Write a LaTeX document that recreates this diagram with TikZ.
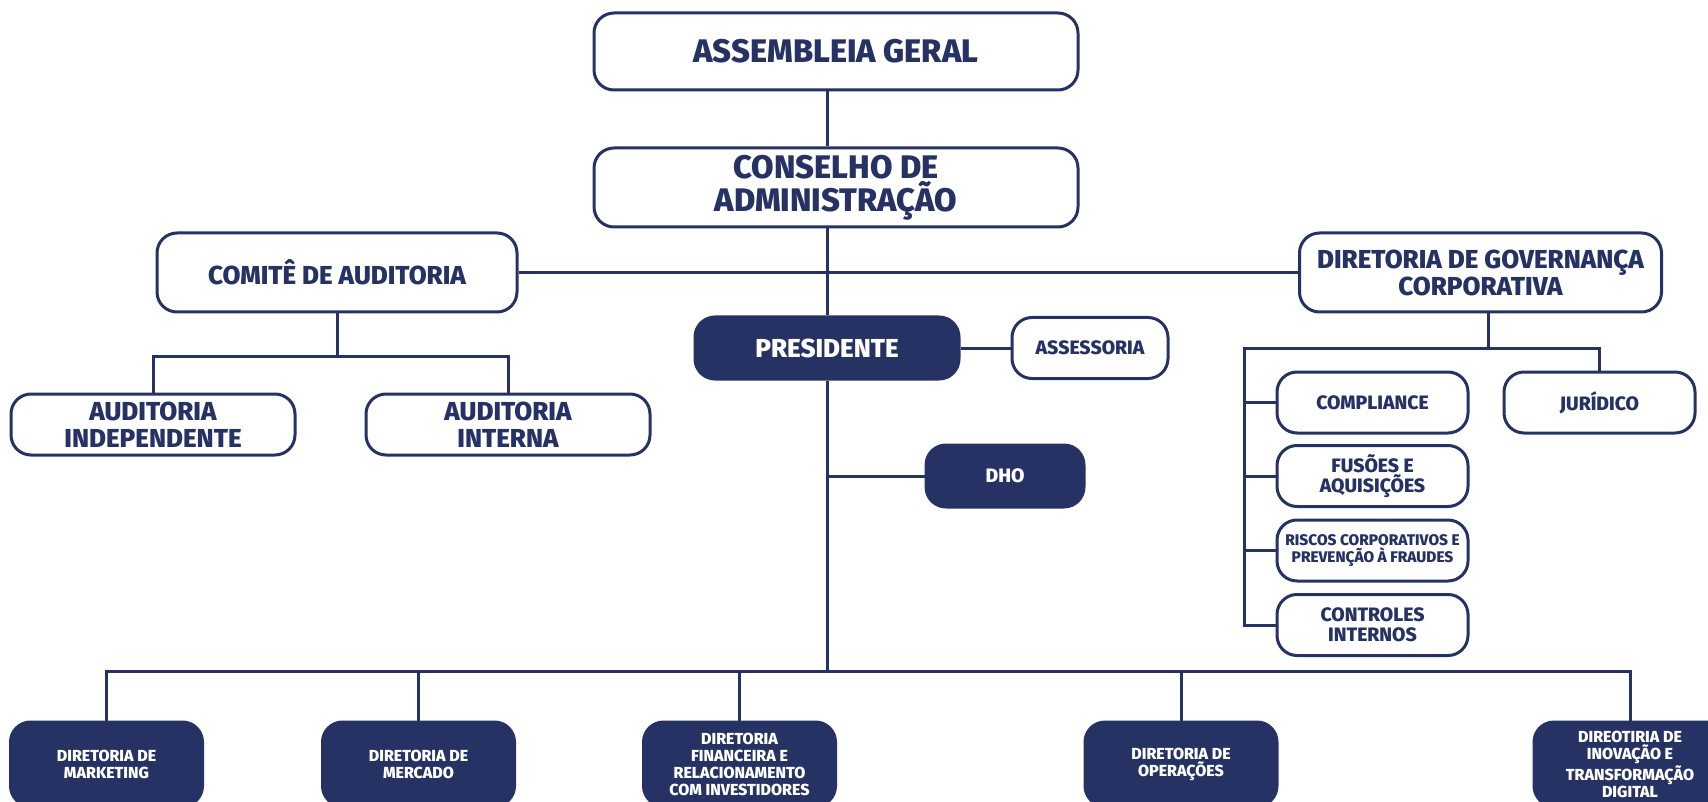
\documentclass[tikz,border=0pt]{standalone}
\usepackage{fontspec}
\setmainfont{Fira Sans}[BoldFont={Fira Sans ExtraBold}]
\definecolor{navy}{RGB}{37,50,99}
\begin{document}
\begin{tikzpicture}[x=0.5pt, y=-0.5pt,
    box/.style={draw=navy, line width=1.5pt, rounded corners=10pt, fill=white, text=navy,
      align=center, inner sep=0pt},
    dark/.style={box, fill=navy, text=white},
    big/.style={font=\bfseries\fontsize{16.3}{15}\selectfont},
    mid/.style={font=\bfseries\fontsize{13}{13.5}\selectfont},
    small/.style={font=\bfseries\fontsize{9.7}{10}\selectfont},
    tiny/.style={font=\bfseries\fontsize{7.7}{8.5}\selectfont},
    dirbox/.style={dark, minimum width=96pt, minimum height=42pt,
      font=\bfseries\fontsize{8}{8.5}\selectfont},
    link/.style={draw=navy, line width=1.5pt}]
        \useasboundingbox (0,0) rectangle (1708,802);
        % topo
        \node[box, big, minimum width=242pt, minimum height=38.5pt] (ag) at (836, 51.5) {ASSEMBLEIA GERAL};
        \node[box, big, minimum width=242pt, minimum height=39.5pt] (cons) at (836, 187.5) {CONSELHO DE\\ADMINISTRAÇÃO};
        \node[box, mid, minimum width=180pt, minimum height=39.5pt] (comite) at (337, 272.5) {COMITÊ DE AUDITORIA};
        \node[box, mid, minimum width=181pt, minimum height=39.5pt] (gov) at (1480.5, 272.5) {DIRETORIA DE GOVERNANÇA\\CORPORATIVA};
        \node[dark, mid, minimum width=132pt, minimum height=31pt] (pres) at (827, 348) {PRESIDENTE};
        \node[box, small, minimum width=78pt, minimum height=30.5pt] (assess) at (1090, 348) {ASSESSORIA};
        \node[box, mid, minimum width=142pt, minimum height=30.5pt] (audind) at (153, 424.5) {AUDITORIA\\INDEPENDENTE};
        \node[box, mid, minimum width=142pt, minimum height=30.5pt] (audint) at (508, 424.5) {AUDITORIA\\INTERNA};
        \node[dark, small, minimum width=79pt, minimum height=31pt] (dho) at (1005, 476) {DHO};
        % governanca
        \node[box, small, minimum width=95.5pt, minimum height=30.5pt] (compl) at (1372.5, 402.5) {COMPLIANCE};
        \node[box, small, minimum width=95.5pt, minimum height=30.5pt] (jur) at (1599.5, 402.5) {JURÍDICO};
        \node[box, small, minimum width=95.5pt, minimum height=30.5pt] (fus) at (1372.5, 476) {FUSÕES E\\AQUISIÇÕES};
        \node[box, tiny, minimum width=95.5pt, minimum height=30.5pt] (risc) at (1372.5, 550.5) {RISCOS CORPORATIVOS E\\PREVENÇÃO À FRAUDES};
        \node[box, small, minimum width=95.5pt, minimum height=30.5pt] (ctrl) at (1372.5, 625) {CONTROLES\\INTERNOS};
        % diretorias
        \node[dirbox] (mkt) at (106.5, 764) {DIRETORIA DE\\MARKETING};
        \node[dirbox] (merc) at (418.5, 764) {DIRETORIA DE\\MERCADO};
        \node[dirbox] (fin) at (739.5, 764) {DIRETORIA\\FINANCEIRA E\\RELACIONAMENTO\\COM INVESTIDORES};
        \node[dirbox] (ops) at (1181, 764) {DIRETORIA DE\\OPERAÇÕES};
        \node[dirbox] (inov) at (1630, 764) {DIREOTIRIA DE\\INOVAÇÃO E\\TRANSFORMAÇÃO\\DIGITAL};
        \coordinate (audbus) at (337, 356);
        \coordinate (govbus) at (1488, 348);
        \coordinate (govleft) at (1244, 348);
        \coordinate (mainbus) at (827, 671);
        % ligacoes
        \draw[link] (ag.south -| pres) -- (cons.north -| pres);
        \draw[link] (cons.south -| pres) -- (pres.north);
        \draw[link] (comite.east) -- (gov.west);
        \draw[link] (pres.east) -- (assess.west);
        \draw[link] (comite.south) -- (audbus);
        \draw[link] (audind.north) |- (audbus) -| (audint.north);
        \draw[link] (govbus |- gov.south) -- (govbus);
        \draw[link] (jur.north) |- (govleft) |- (ctrl.west);
        \foreach \n in {compl, fus, risc}
            \draw[link] (govleft |- \n.west) -- (\n.west);
        \draw[link] (pres.south) -- (mainbus);
        \draw[link] (mainbus |- dho.west) -- (dho.west);
        \draw[link] (mkt.north) |- (mainbus) -| (inov.north);
        \foreach \n in {merc, fin, ops}
            \draw[link] (mainbus -| \n.north) -- (\n.north);
    \end{tikzpicture}
\end{document}
